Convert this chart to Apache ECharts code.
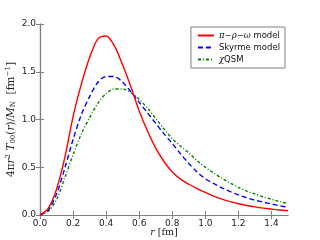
<!DOCTYPE html>
<html>
<head>
<meta charset="utf-8">
<script src="https://cdn.jsdelivr.net/npm/echarts@6/dist/echarts.min.js"></script>
<style>
html,body{margin:0;padding:0;background:#fff;}
#c{width:320px;height:240px;}
</style>
</head>
<body>
<div id="c"></div>
<script>
var radii = [0,0.05,0.1,0.15,0.2,0.25,0.3,0.35,0.4,0.45,0.5,0.55,0.6,0.65,0.7,0.75,0.8,0.85,0.9,0.95,1.0,1.05,1.1,1.15,1.2,1.25,1.3,1.35,1.4,1.45,1.5];
var piRhoOmega = [0,0.07,0.27,0.60,1.03,1.37,1.65,1.845,1.875,1.77,1.57,1.34,1.09,0.88,0.70,0.56,0.45,0.375,0.322,0.277,0.236,0.197,0.166,0.14,0.118,0.10,0.085,0.072,0.062,0.052,0.045];
var skyrme = [0,0.05,0.22,0.49,0.79,1.05,1.24,1.39,1.45,1.45,1.39,1.29,1.18,1.07,0.96,0.85,0.75,0.64,0.54,0.45,0.38,0.33,0.285,0.245,0.21,0.18,0.155,0.135,0.115,0.097,0.08];
var chiQSM = [0,0.04,0.16,0.39,0.63,0.85,1.02,1.17,1.27,1.32,1.32,1.28,1.21,1.12,1.01,0.90,0.80,0.72,0.65,0.57,0.50,0.44,0.385,0.335,0.29,0.25,0.22,0.19,0.165,0.14,0.12];
var xTicks = [0,0.2,0.4,0.6,0.8,1.0,1.2,1.4];
var yTicks = [0,0.5,1.0,1.5,2.0];
var seriesNames = ['{g|π−ρ−ω} model','Skyrme model','{g|χ}QSM'];

function pairs(v){ return radii.map(function(r,i){ return [r, v[i]]; }); }

var frame = {lineStyle:{color:'#808080', width:1.2}};
var tickIn = {show:true, inside:true, length:4, lineStyle:{color:'#808080', width:1}};
var lab = {color:'#222', fontFamily:'DejaVu Sans', fontSize:9};

var chart = echarts.init(document.getElementById('c'), null, {renderer:'canvas'});
chart.setOption({
  animation:false,
  backgroundColor:'#fff',
  grid:{left:40, right:32, top:24, bottom:25, containLabel:false, outerBoundsMode:'none'},
  legend:{
    right:35, top:27, orient:'vertical', itemWidth:16, itemHeight:8, itemGap:3,
    padding:[4,5,4,6], borderColor:'#808080', borderWidth:1, backgroundColor:'#fff',
    itemStyle:{opacity:0},
    textStyle:{color:'#111', fontFamily:'DejaVu Sans', fontSize:8.5,
      rich:{g:{fontFamily:'DejaVu Serif', fontStyle:'italic', fontSize:8.5, color:'#111'}}},
    data:seriesNames
  },
  xAxis:[{
    type:'value', min:0, max:1.5, position:'bottom',
    axisLine:frame, splitLine:{show:false},
    axisTick:Object.assign({customValues:xTicks}, tickIn),
    axisLabel:Object.assign({customValues:xTicks, margin:4, formatter:function(v){return v.toFixed(1);}}, lab),
    name:'{i|r} [fm]', nameLocation:'middle', nameGap:13, nameMoveOverlap:false,
    nameTextStyle:{fontFamily:'DejaVu Serif', fontSize:9.5, color:'#222',
      rich:{i:{fontFamily:'DejaVu Serif', fontStyle:'italic', fontSize:9.5, color:'#222'}}}
  },{
    type:'value', min:0, max:1.5, position:'top',
    axisLine:frame, splitLine:{show:false},
    axisTick:Object.assign({customValues:xTicks}, tickIn),
    axisLabel:{show:false}
  }],
  yAxis:[{
    type:'value', min:0, max:2, position:'left',
    axisLine:frame, splitLine:{show:false},
    axisTick:Object.assign({customValues:yTicks}, tickIn),
    axisLabel:Object.assign({customValues:yTicks, margin:4, formatter:function(v){return v.toFixed(1);}}, lab),
    name:'{n|4π}{i|r}{s|2} {i|T}{b|00}{n|(}{i|r}{n|)/}{i|M}{b|N}{n|  [fm}{s|−1}{n|]}',
    nameLocation:'middle', nameGap:23, nameRotate:90, nameMoveOverlap:false,
    nameTextStyle:{color:'#222', rich:{
      n:{fontFamily:'DejaVu Serif', fontSize:10.5, color:'#222', verticalAlign:'middle'},
      i:{fontFamily:'DejaVu Serif', fontStyle:'italic', fontSize:10.5, color:'#222', verticalAlign:'middle'},
      s:{fontFamily:'DejaVu Serif', fontSize:7, color:'#222', verticalAlign:'top'},
      b:{fontFamily:'DejaVu Serif', fontSize:7, color:'#222', verticalAlign:'bottom'}
    }}
  },{
    type:'value', min:0, max:2, position:'right',
    axisLine:frame, splitLine:{show:false},
    axisTick:Object.assign({customValues:yTicks}, tickIn),
    axisLabel:{show:false}
  }],
  series:[
    {name:seriesNames[0], type:'line', data:pairs(piRhoOmega), smooth:0.3, symbol:'none',
     lineStyle:{color:'#ff0000', width:1.4, type:'solid'}, itemStyle:{color:'#ff0000'}, z:3},
    {name:seriesNames[1], type:'line', data:pairs(skyrme), smooth:0.3, symbol:'none',
     lineStyle:{color:'#0000ff', width:1.4, type:[5,3]}, itemStyle:{color:'#0000ff'}, z:2},
    {name:seriesNames[2], type:'line', data:pairs(chiQSM), smooth:0.3, symbol:'none',
     lineStyle:{color:'#008000', width:1.4, type:[3,2,1,2]}, itemStyle:{color:'#008000'}, z:1}
  ]
});
</script>
</body>
</html>
